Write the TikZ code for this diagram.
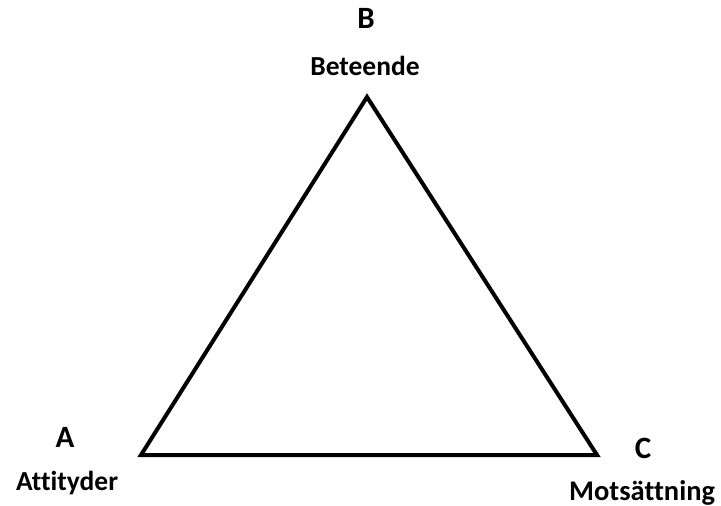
\documentclass[tikz,border=0pt]{standalone}
\usepackage{fontspec}
\setmainfont{Carlito}[Ligatures=NoCommon]
\begin{document}
\begin{tikzpicture}[x=1pt,y=-1pt,
  big/.style={font=\bfseries\fontsize{31}{36}\selectfont, inner sep=0pt, anchor=base},
  word/.style={font=\bfseries\fontsize{27.5}{32}\selectfont, inner sep=0pt, anchor=base},
  edge/.style={line width=4pt, line join=miter}]
\useasboundingbox (0,0) rectangle (721,506);
\coordinate (tB) at (367,97);
\coordinate (tA) at (141,455);
\coordinate (tC) at (597,455);
\draw[edge] (tA) -- (tB) -- (tC) -- cycle;
\node[big] (lB) at (366,28) {B};
\node[word] (wB) at (365,75) {Beteende};
\node[big] (lA) at (65,447) {A};
\node[word] (wA) at (67,490) {Attityder};
\node[big] (lC) at (643,458) {C};
\node[word, font=\bfseries\fontsize{28.5}{32}\selectfont, anchor=base west] (wC) at (569,500) {Motsättning};
\end{tikzpicture}
\end{document}
